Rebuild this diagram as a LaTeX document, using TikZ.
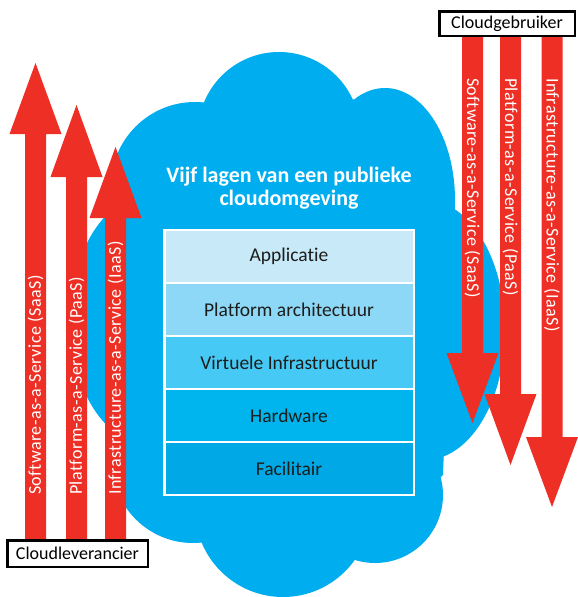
\documentclass[tikz,border=0pt]{standalone}
\usepackage{fontspec}
\setmainfont{Carlito}[Ligatures=NoCommon]
\definecolor{cloudblue}{RGB}{0,173,238}
\definecolor{arrowred}{RGB}{238,47,37}
\definecolor{layA}{RGB}{199,233,248}
\definecolor{layB}{RGB}{142,216,247}
\definecolor{layC}{RGB}{70,201,245}
\definecolor{layD}{RGB}{0,181,237}
\definecolor{layE}{RGB}{0,169,230}
\definecolor{labelink}{RGB}{29,29,27}
\tikzset{
  bump/.style={fill=cloudblue},
  layer/.style={draw=white, line width=2.5pt, minimum width=249.5pt, minimum height=53pt,
    inner sep=0pt, font=\fontsize{19.5}{22}\selectfont, text=labelink},
  rolebox/.style={draw=black, fill=white, line width=2.5pt, inner sep=0pt,
    font=\fontsize{18}{20}\selectfont},
  arrowtext/.style={text=white, inner sep=0pt,
    font=\fontsize{18}{20}\selectfont\addfontfeature{LetterSpace=2.5}},
  redshape/.style={fill=arrowred},
}
\newcommand{\uparrowshape}[4]{%
  \fill[redshape] (#1-10.5,#2) -- (#1-10.5,#3) -- (#1-26,#3) -- (#1,#4) -- (#1+26,#3)
    -- (#1+10.5,#3) -- (#1+10.5,#2) -- cycle;}
\begin{document}
\begin{tikzpicture}[x=1pt,y=-1pt]
\useasboundingbox (0,0) rectangle (578,597);
% cloud
\fill[bump] (279,133) circle[radius=81pt];
\fill[bump] (195,186) circle[radius=84pt];
\fill[bump] (385,200) ellipse[x radius=70pt, y radius=112pt];
\fill[bump] (425,330) ellipse[x radius=80pt, y radius=130pt];
\fill[bump] (375,495) circle[radius=68pt];
\fill[bump] (283,509) circle[radius=88pt];
\fill[bump] (193,462) circle[radius=81pt];
\fill[bump] (150,320) ellipse[x radius=80pt, y radius=125pt];
\fill[bump] (205,103) -- (353,99) -- (453,205) -- (443,475) -- (350,560) -- (210,540)
  -- (127,500) -- (103,412) -- (117,157) -- cycle;
% title
\node[font=\bfseries\fontsize{22}{23}\selectfont, text=white, align=center] (title)
  at (289,188) {Vijf lagen van een publieke\\cloudomgeving};
% layers
\node[layer, fill=layA] (app) at (289,256.5) {Applicatie};
\node[layer, fill=layB] (plat) at (289,309.5) {Platform architectuur};
\node[layer, fill=layC] (virt) at (289,362.5) {Virtuele Infrastructuur};
\node[layer, fill=layD] (hw) at (289,415.5) {Hardware};
\node[layer, fill=layE] (fac) at (289,468.5) {Facilitair};
% arrows (provider, upward)
\uparrowshape{35.5}{541}{134}{63}
\uparrowshape{76.5}{541}{177}{105}
\uparrowshape{115.5}{541}{218}{147}
% arrows (user, downward)
\uparrowshape{472.5}{35}{353}{423}
\uparrowshape{510.5}{35}{394}{465}
\uparrowshape{552}{35}{437}{507}
% arrow labels
\node[arrowtext, rotate=90, anchor=west] (sl) at (35.5,495) {Software-as-a-Service (SaaS)};
\node[arrowtext, rotate=90, anchor=west] (pl) at (76.5,495) {Platform-as-a-Service (PaaS)};
\node[arrowtext, rotate=90, anchor=west] (il) at (115.5,495) {Infrastructure-as-a-Service (IaaS)};
\node[arrowtext, rotate=-90, anchor=west] (sr) at (472.5,78) {Software-as-a-Service (SaaS)};
\node[arrowtext, rotate=-90, anchor=west] (pr) at (510.5,78) {Platform-as-a-Service (PaaS)};
\node[arrowtext, rotate=-90, anchor=west] (ir) at (552,78) {Infrastructure-as-a-Service (IaaS)};
% role boxes
\node[rolebox, minimum width=140.5pt, minimum height=26.5pt] (lev) at (77.5,553.5) {Cloudleverancier};
\node[rolebox, minimum width=135.5pt, minimum height=24.5pt] (geb) at (507,23.5) {Cloudgebruiker};
\end{tikzpicture}
\end{document}
